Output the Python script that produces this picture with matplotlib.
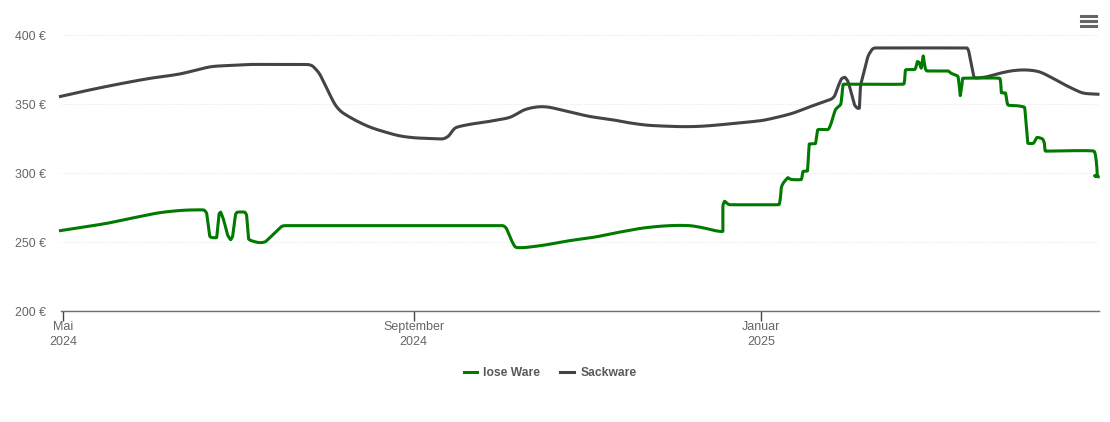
import numpy as np
import matplotlib
matplotlib.use('Agg')
import matplotlib.pyplot as plt
from matplotlib.lines import Line2D
from matplotlib.transforms import ScaledTranslation

plt.rcParams['font.family'] = ['Liberation Sans', 'DejaVu Sans']

# days since 1 May 2024 and price in euro
lose_days = [-0.9, 14.6, 23.3, 33.9, 42.6, 49.3, 50.4, 51.4, 52.1, 53.9, 54.7, 55.3, 56.3, 57.7, 58.8, 59.5,
             60.5, 61.2, 63.7, 64.4, 65.1, 66.5, 68.9, 71, 73.2, 76.7, 78.4, 154.2, 155.6, 157.4, 158.8, 161.9,
             168.9, 177.7, 186.5, 195.3, 204, 212.8, 219.8, 225.1, 228.6, 231.5, 231.5, 232.1, 233.9, 251.1,
             251.7, 252, 252.8, 254.3, 255.5, 259, 259.6, 261.2, 261.8, 264, 264.8, 268.4, 269.5, 271, 272.9,
             273.6, 273.9, 294.9, 295.6, 298.9, 299.7, 300.3, 301.1, 301.8, 302.5, 303.1, 310.5, 311.6, 314,
             314.8, 315.4, 315.7, 328.6, 329.2, 330.7, 331.5, 335, 337.4, 338.5, 340.5, 341.7, 343.6, 344.3,
             344.7, 361.7, 362.9, 361.9, 363.2]
lose_price = [258, 263, 266.7, 271, 272.8, 273, 270.3, 254.3, 253, 253, 270, 271.4, 266, 255, 251.4, 254,
              269.6, 271.4, 271.4, 269, 252, 250.4, 249.3, 250, 254.3, 261, 261.6, 261.6, 259.4, 250.7, 246, 245.7,
              247.5, 250.7, 253.3, 256.9, 260, 261.6, 261.6, 259.8, 258, 257.5, 275.6, 279.3, 276.8, 276.8,
              281.9, 289.1, 292.8, 296.4, 295.1, 295.1, 300.9, 301.4, 320.8, 321.2, 331.2, 331.4, 336, 345.7, 350,
              363.8, 364.3, 364.3, 374.6, 375.1, 380.7, 380.2, 375.9, 384.8, 375.9, 373.9, 373.9, 372.2, 369.8,
              356, 363.8, 368.6, 368.6, 358.2, 357.8, 349.3, 348.6, 347.3, 321.5, 321.5, 325.6, 324.6, 321.5,
              315.7, 315.7, 297.3, 297.8, 297.1]

sack_days = [-0.9, 9.3, 19.8, 30.4, 40.9, 51.4, 58.4, 65.4, 72.5, 85.4, 87.5, 90, 92.8, 95.3, 97.7, 102.3,
             107.5, 112.8, 118.1, 123.3, 128.6, 133.2, 135.3, 137.7, 142.6, 149.6, 156.7, 161.9, 166.5, 170.7,
             177.7, 184.7, 191.8, 198.8, 205.8, 216.3, 223.3, 230.4, 244.4, 250.2, 256.1, 261.9, 269.2, 270.7,
             271.9, 273.1, 274.3, 275.4, 276.6, 277.7, 278.7, 279.4, 279.8, 280.9, 282.4, 283.9, 285, 317.1,
             317.8, 319.5, 320.4, 323.9, 328.6, 333.3, 338, 342.6, 347.3, 352, 356.7, 359, 363.1]
sack_price = [355.4, 360.1, 364.5, 368.5, 371.7, 376.8, 377.9, 378.6, 378.6, 378.6, 377.5, 371.7, 360.1, 350, 344.2, 338.4,
              333.3, 329.7, 326.8, 325.4, 324.9, 324.6, 326.8, 332.6, 335.1, 337.3, 340.2, 345.7, 347.8, 347.5,
              344.2, 340.9, 338.8, 336.2, 334.4, 333.5, 333.7, 334.8, 337.7, 340.1, 343.3, 347.8, 353.1, 355.8,
              362.5, 368.1, 369.3, 366.2, 357.8, 349.3, 346.9, 346.9, 362.5, 372.2, 384.3, 389.6, 390.6, 390.6,
              387.9, 369.8, 368.8, 369.6, 372.2, 374.1, 374.6, 373.2, 368.6, 363.3, 358.7, 357.5, 357]

y_ticks = [200, 250, 300, 350, 400]
x_ticks = [0, 123, 245]
x_labels = ['Mai\n2024', 'September\n2024', 'Januar\n2025']


# round the corners between readings, like a spline series
def smooth(ax, xs, ys, n=12):
    p = ax.transData.transform(np.column_stack([xs, ys]))
    diffs = np.diff(p, axis=0)
    seg = np.linalg.norm(diffs, axis=1)
    out = [p[:1]]
    t = np.linspace(0, 1, n + 1)[1:, None]
    d = np.zeros_like(p)
    for i in range(1, len(p) - 1):
        v = p[i + 1] - p[i - 1]
        # sharp turns get short handles so steps do not overshoot
        cos = np.dot(diffs[i - 1], diffs[i]) / max(seg[i - 1] * seg[i], 1e-6)
        d[i] = v / max(np.linalg.norm(v), 1e-6) * min(seg[i - 1], seg[i]) / 3 * ((1 + cos) / 2)**2
    for i in range(len(p) - 1):
        c1, c2 = p[i] + d[i], p[i + 1] - d[i + 1]
        out.append((1 - t)**3 * p[i] + 3 * (1 - t)**2 * t * c1 + 3 * (1 - t) * t**2 * c2 + t**3 * p[i + 1])
    q = ax.transData.inverted().transform(np.vstack(out))
    return q[:, 0], q[:, 1]


W, H = 1110, 422
fig = plt.figure(figsize=(W / 100, H / 100), dpi=100)
ax = fig.add_axes([60.5 / W, 1 - 310.5 / H, 1038 / W, 275.5 / H])
ax.set_xlim(-0.9, 363.3)
ax.set_ylim(200, 400)

sx, sy = smooth(ax, lose_days, lose_price)
ax.plot(sx, sy, color='#007a00', lw=2.2, solid_joinstyle='round', label='lose Ware', zorder=3, clip_on=False)
sx, sy = smooth(ax, sack_days, sack_price)
ax.plot(sx, sy, color='#434348', lw=2.2, solid_joinstyle='round', label='Sackware', zorder=2, clip_on=False)

for s in ['top', 'left', 'right']:
    ax.spines[s].set_visible(False)
ax.spines['bottom'].set_color('#707070')
ax.spines['bottom'].set_linewidth(1.0)

ax.set_yticks(y_ticks)
ax.set_yticklabels([str(v) + ' €' for v in y_ticks])
ax.set_xticks(x_ticks)
ax.set_xticklabels(x_labels, linespacing=1.3)
ax.tick_params(axis='y', length=0, pad=10.6, labelsize=8.9, labelcolor='#666666')
ax.tick_params(axis='x', length=7, width=1, color='#444444', pad=0.5, labelsize=9, labelcolor='#666666')
ax.grid(axis='y', color='#e6e6e6', lw=0.7, ls=(0, (1, 1.5)), zorder=0)
ax.set_axisbelow(True)

# y labels sit a pixel lower in the reference
for lab in ax.get_yticklabels():
    lab.set_transform(lab.get_transform() + ScaledTranslation(0, -1 / 100, fig.dpi_scale_trans))

leg = ax.legend(loc='center', bbox_to_anchor=(550 / W, 1 - 373 / H), bbox_transform=fig.transFigure, ncol=2,
                frameon=False, fontsize=8.7, handlelength=1.15, handletextpad=0.5, columnspacing=1.65)
for t in leg.get_texts():
    t.set_color('#595959')
    t.set_fontweight('bold')

# menu icon top right
for y in [16, 21, 26]:
    fig.add_artist(Line2D([1080.5 / W, 1096 / W], [1 - y / H, 1 - y / H], color='#666666', lw=2.2))

fig.savefig('out.png', dpi=100)
